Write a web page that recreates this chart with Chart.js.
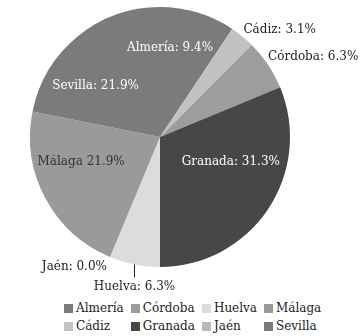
<!DOCTYPE html>
<html>
<head>
<meta charset="utf-8">
<script src="https://cdn.jsdelivr.net/npm/chart.js@4/dist/chart.umd.min.js"></script>
<style>
  html, body { margin: 0; padding: 0; background: #fff; }
  #wrap { position: relative; width: 361px; height: 336px; }
  #chartBox { position: absolute; left: 0; top: 0; width: 361px; height: 292px; }
  #legend {
    position: absolute; left: 64px; top: 299px;
    display: grid; grid-template-rows: repeat(2, 18px); grid-auto-flow: column;
    column-gap: 7px;
    font-family: "DejaVu Serif", serif; font-size: 12px; color: #222;
  }
  #legend .item { display: flex; align-items: center; white-space: nowrap; }
  #legend .box { width: 9px; height: 9px; margin-right: 3px; }
</style>
</head>
<body>
<div id="wrap">
  <div id="chartBox"><canvas id="pieChart"></canvas></div>
  <div id="legend"></div>
</div>
<script>
const provinces = ['Almería', 'Cádiz', 'Córdoba', 'Granada', 'Huelva', 'Jaén', 'Málaga', 'Sevilla'];
const percents = [9.4, 3.1, 6.3, 31.3, 6.3, 0.0, 21.9, 21.9];
const labelSeps = [': ', ': ', ': ', ': ', ': ', ': ', ' ', ': '];
const sliceColors = ['#7b7b7b', '#c2c2c2', '#9d9d9d', '#474747', '#dcdcdc', '#bababa', '#9a9a9a', '#7b7b7b'];

// where each slice label goes (relative to the arc mid point)
const labelPlace = [
    { r: 0.69, dx: -16, dy: -3, align: 'center', color: '#fff' },
    { r: 1.0, dx: 1, dy: -7, align: 'left', color: '#222' },
    { r: 1.0, dx: 0, dy: -8, align: 'left', color: '#222' },
    { r: 0.6, dx: 6, dy: -18, align: 'center', color: '#fff' },
    { r: 1.0, dx: 0, dy: 22, align: 'center', color: '#222', leader: 13 },
    { r: 1.0, dx: -3, dy: 10, align: 'right', color: '#222' },
    { r: 0.6, dx: -10, dy: -12, align: 'center', color: '#333' },
    { r: 0.6, dx: -15, dy: 9, align: 'center', color: '#fff' }
];

const sliceLabels = {
    id: 'sliceLabels',
    afterDatasetsDraw(chart) {
        const ctx = chart.ctx;
        const meta = chart.getDatasetMeta(0);
        ctx.save();
        ctx.font = '12px "DejaVu Serif", serif';
        ctx.textBaseline = 'middle';
        meta.data.forEach((arc, i) => {
            const p = arc.getProps(['x', 'y', 'startAngle', 'endAngle', 'outerRadius'], true);
            const mid = (p.startAngle + p.endAngle) / 2;
            const pl = labelPlace[i];
            const ex = p.x + Math.cos(mid) * p.outerRadius * pl.r;
            const ey = p.y + Math.sin(mid) * p.outerRadius * pl.r;
            if (pl.leader) {
                ctx.strokeStyle = '#222';
                ctx.lineWidth = 1;
                ctx.beginPath();
                ctx.moveTo(Math.round(ex) + 0.5, ey);
                ctx.lineTo(Math.round(ex) + 0.5, ey + pl.leader);
                ctx.stroke();
            }
            ctx.fillStyle = pl.color;
            ctx.textAlign = pl.align;
            ctx.fillText(provinces[i] + labelSeps[i] + percents[i].toFixed(1) + '%', ex + pl.dx, ey + pl.dy);
        });
        ctx.restore();
    }
};

const chart = new Chart(document.getElementById('pieChart').getContext('2d'), {
    type: 'pie',
    data: {
        labels: provinces,
        datasets: [{
            data: percents,
            backgroundColor: sliceColors,
            borderWidth: 0
        }]
    },
    options: {
        responsive: true,
        maintainAspectRatio: false,
        animation: false,
        layout: { padding: { left: 30, right: 71, top: 7, bottom: 25 } },
        plugins: {
            legend: { display: false },
            tooltip: { enabled: false }
        }
    },
    plugins: [sliceLabels]
});

// html legend, filled column by column like the original
const legendEl = document.getElementById('legend');
chart.options.plugins.legend.labels.generateLabels(chart).forEach(item => {
    const div = document.createElement('div');
    div.className = 'item';
    div.innerHTML = '<span class="box" style="background:' + item.fillStyle + '"></span>' + item.text;
    legendEl.appendChild(div);
});
</script>
</body>
</html>
